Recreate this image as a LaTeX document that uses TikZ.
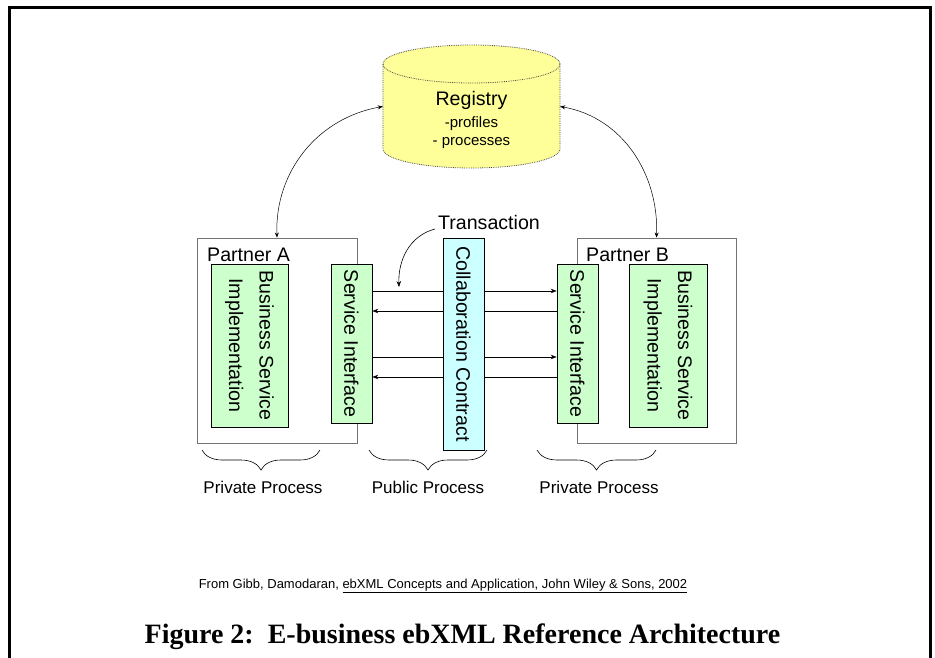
\documentclass[tikz,border=0pt]{standalone}
\usepackage{fontspec}
\setmainfont{Liberation Sans}
\newfontfamily\capfont{Liberation Serif}
\usetikzlibrary{arrows.meta,decorations.pathreplacing}
\definecolor{regyellow}{HTML}{FFFF99}
\definecolor{svcgreen}{HTML}{CCFFCC}
\definecolor{contractcyan}{HTML}{CCFFFF}
\tikzset{
  txt/.style={font=\fontsize{19.6}{30.5}\selectfont, inner sep=0pt},
  partner/.style={draw=black!55, line width=0.9pt, minimum width=160pt, minimum height=205pt, inner sep=0pt},
  svc/.style={txt, draw, line width=0.7pt, fill=svcgreen, rotate=-90, align=center},
  msg/.style={-{Stealth[length=6pt,width=4.5pt]}, line width=0.6pt},
  regarrow/.style={{Stealth[length=5pt,width=4pt]}-{Stealth[length=5pt,width=4pt]}, line width=0.5pt},
  procbrace/.style={decorate, decoration={brace, amplitude=20pt, mirror}, line width=0.6pt}
}
\begin{document}
\begin{tikzpicture}[x=1pt,y=1pt]
\useasboundingbox (0,0) rectangle (935,-658);
\clip (0,0) rectangle (935,-658);
\draw[line width=2.5pt] (9.5,-7.5) rectangle (930.5,-690);

\fill[regyellow] (383,-64) -- (383,-149) arc[start angle=180, end angle=360, x radius=88.5pt, y radius=19pt] -- (560,-64) -- cycle;
\fill[regyellow] (471.5,-64) ellipse [x radius=88.5pt, y radius=19pt];
\draw[black!70, densely dotted, line width=0.8pt] (471.5,-64) ellipse [x radius=88.5pt, y radius=19pt];
\draw[black!70, densely dotted, line width=0.8pt] (383,-64) -- (383,-149) arc[start angle=180, end angle=360, x radius=88.5pt, y radius=19pt] -- (560,-64);
\node[inner sep=0pt, minimum width=177pt, minimum height=123pt] (registry) at (471.5,-106.5) {};
\node[inner sep=0pt, align=center, font=\fontsize{19.6}{22}\selectfont] (regtext) at (471.5,-119.5) {Registry\\\fontsize{15}{17}\selectfont -profiles\\[-4pt]\fontsize{15}{17}\selectfont - processes};

\node[partner] (partnerA) at (277,-340.5) {};
\node[partner, minimum width=159pt] (partnerB) at (656.5,-340.5) {};
\node[txt, anchor=west] (labelA) at (207,-255) {Partner A};
\node[txt, anchor=west] (labelB) at (586,-255) {Partner B};

\draw[regarrow] (registry.west) to[out=190, in=92] (partnerA.north);
\draw[regarrow] (registry.east) to[out=-10, in=88] (partnerB.north);

\node[svc, minimum width=163pt, minimum height=77pt] (implA) at (249.5,-345.5) {Business Service\\Implementation};
\node[svc, minimum width=163pt, minimum height=78pt] (implB) at (668,-345.5) {Business Service\\Implementation};
\node[svc, minimum width=159pt, minimum height=41pt] (siA) at (351.5,-343.5) {Service Interface};
\node[svc, minimum width=159pt, minimum height=41pt] (siB) at (577.5,-343.5) {Service Interface};

\draw[msg] ([yshift=52.5pt]siA.north) -- ([yshift=52.5pt]siB.south);
\draw[msg] ([yshift=32.5pt]siB.south) -- ([yshift=32.5pt]siA.north);
\draw[msg] ([yshift=-13.5pt]siA.north) -- ([yshift=-13.5pt]siB.south);
\draw[msg] ([yshift=-33.5pt]siB.south) -- ([yshift=-33.5pt]siA.north);

\node[svc, fill=contractcyan, minimum width=212pt, minimum height=41pt] (contract) at (463.5,-344) {Collaboration Contract};

\node[txt] (trans) at (489,-222) {Transaction};
\coordinate (txend) at (399,-287);
\draw[msg] ([xshift=-3pt,yshift=-7pt]trans.west) to[out=195, in=92] (txend);

\draw[procbrace] (202,-450) -- (320,-450);
\draw[procbrace] (369,-450) -- (487,-450);
\draw[procbrace] (537,-450) -- (656,-450);
\node[txt, font=\fontsize{17}{20}\selectfont] (privA) at (263,-487) {Private Process};
\node[txt, font=\fontsize{17}{20}\selectfont] (public) at (428,-487) {Public Process};
\node[txt, font=\fontsize{17}{20}\selectfont] (privB) at (599,-487) {Private Process};

\node[txt, font=\fontsize{13}{15}\selectfont] (source) at (443,-586) {From Gibb, Damodaran, \underline{ebXML Concepts and Application, John Wiley \& Sons, 2002}};
\node[inner sep=0pt, anchor=base, font=\capfont\bfseries\fontsize{28}{30}\selectfont] (caption) at (462.5,-643) {Figure 2:\ \ E-business ebXML Reference Architecture};
\end{tikzpicture}
\end{document}
